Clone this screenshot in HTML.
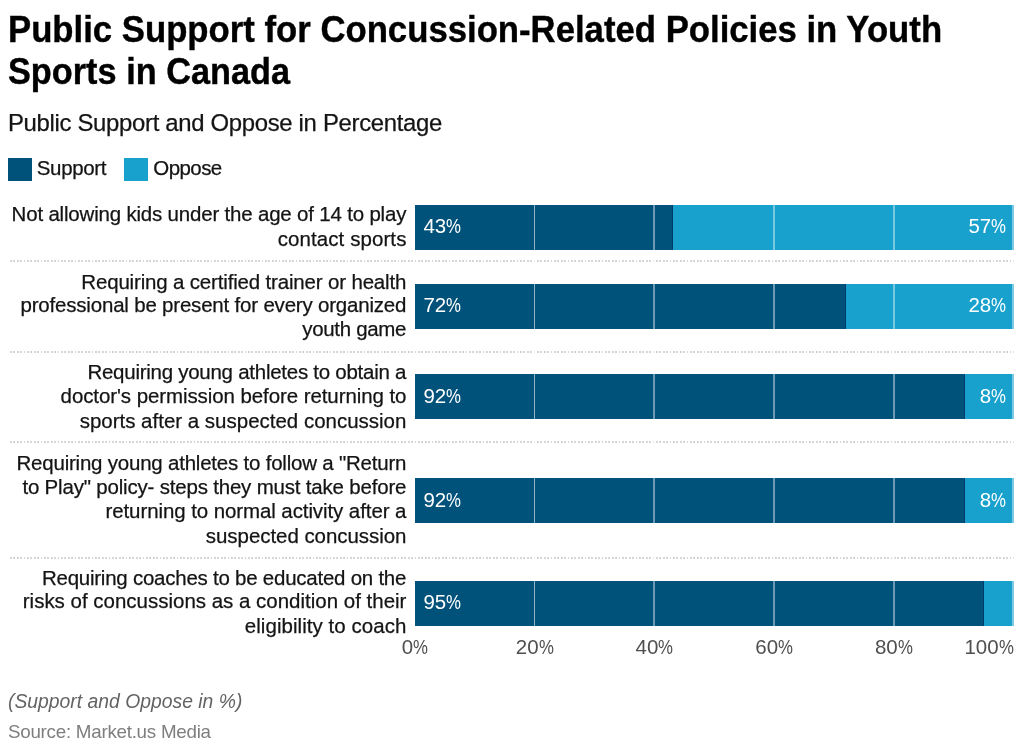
<!DOCTYPE html>
<html lang="en">
<head>
<meta charset="utf-8">
<title>Public Support for Concussion-Related Policies in Youth Sports in Canada</title>
<style>
*{box-sizing:border-box}
html,body{margin:0;padding:0;background:#fff}
body{width:1024px;height:750px;position:relative;overflow:hidden;font-family:"Liberation Sans",sans-serif;color:#1d1d1d;-webkit-font-smoothing:antialiased}
.chart{position:absolute;left:0;top:0;width:1024px;height:750px}
h1{position:absolute;left:8px;top:8px;margin:0;font-size:37.55px;line-height:42px;font-weight:700;color:#000;-webkit-text-stroke:0.4px #000;white-space:nowrap}
h1 span{display:block;transform-origin:0 0;width:max-content}
.desc{position:absolute;left:8px;top:107.7px;margin:0;font-size:23.9px;line-height:30px;color:#141414;-webkit-text-stroke:0.25px #141414;white-space:nowrap}
.legend{position:absolute;left:0;top:0;margin:0;padding:0;list-style:none}
.legend li{position:absolute;top:158px;height:23px;white-space:nowrap;font-size:20.48px;line-height:24px}
.legend i{position:absolute;left:0;top:0;width:24px;height:23px;display:block}
.legend b{position:absolute;top:-1.9px;font-weight:400;color:#141414;-webkit-text-stroke:0.25px #141414}
.row{position:absolute;left:0;top:0;width:1024px}
.label{position:absolute;right:617.6px;top:0;text-align:right;font-size:20.48px;line-height:24px;white-space:nowrap;color:#141414;-webkit-text-stroke:0.25px #141414}
.label span{display:block;position:absolute;right:0}
.bar{position:absolute;left:414.9px;width:598.8px;height:44.9px;display:flex;font-size:20.48px;line-height:44.9px;color:#fff}
.seg{height:100%;position:relative;white-space:nowrap}
.s1{background:#00527a;box-shadow:inset -1px 0 0 rgba(0,40,95,.55)}
.s2{background:#18a1cd;flex:1}
.s1 em,.s2 em{font-style:normal;position:absolute;top:-0.6px}
.pc{display:inline-block;transform:scaleX(.82);transform-origin:0 50%;margin-right:-3.3px}
.s1 em{left:8.6px}
.s2 em{right:7.6px}
.sep{position:absolute;left:10px;width:1003.5px;height:2px;background:repeating-linear-gradient(90deg,#d6d6d6 0,#d6d6d6 1.7px,transparent 1.7px,transparent 3.4px)}
.grid{position:absolute;top:205px;height:421px;width:1.2px;background:rgba(255,255,255,.55);mix-blend-mode:normal}
.tick{position:absolute;top:634.9px;font-size:20.48px;line-height:24px;color:#4f4f4f;width:80px;margin-left:-40px;text-align:center;white-space:nowrap}
.tick.last{text-align:right;margin-left:-80px}
.notes{position:absolute;left:8px;top:688.7px;margin:0;font-size:20.48px;line-height:24px;font-style:italic;color:#636363;white-space:nowrap}
.notes span{display:inline-block;transform-origin:0 0}
.source{position:absolute;left:8px;top:721.2px;margin:0;font-size:18.77px;line-height:22px;color:#7e7e7e;white-space:nowrap}
</style>
</head>
<body>
<div class="chart">
<h1><span id="title1" style="transform:scaleX(0.9245)">Public Support for Concussion-Related Policies in Youth</span> <span id="title2" style="transform:scaleX(0.9133)">Sports in Canada</span></h1>
<p class="desc"><span id="sub" style="letter-spacing:-0.316px;margin-right:0.316px">Public Support and Oppose in Percentage</span></p>
<ul class="legend">
<li style="left:8px"><i style="background:#00527a"></i><b id="leg1" style="left:28.8px;letter-spacing:-0.333px;margin-right:0.333px">Support</b></li>
<li style="left:124px"><i style="background:#18a1cd"></i><b id="leg2" style="left:29.3px;letter-spacing:-0.560px;margin-right:0.560px">Oppose</b></li>
</ul>
<div class="plot">
<div class="row">
<div class="label"><span id="R1L1" style="top:202px;letter-spacing:-0.182px;margin-right:0.182px">Not allowing kids under the age of 14 to play</span> <span id="R1L2" style="top:227px;letter-spacing:0.092px;margin-right:-0.092px">contact sports</span> </div>
<div class="bar" style="top:205.0px"><div class="seg s1" style="width:258.1px"><em>43<span class="pc">%</span></em></div><div class="seg s2"><em>57<span class="pc">%</span></em></div></div>
</div>
<div class="row">
<div class="label"><span id="R2L1" style="top:270px;letter-spacing:-0.158px;margin-right:0.158px">Requiring a certified trainer or health</span> <span id="R2L2" style="top:293px;letter-spacing:-0.186px;margin-right:0.186px">professional be present for every organized</span> <span id="R2L3" style="top:317px;letter-spacing:-0.311px;margin-right:0.311px">youth game</span> </div>
<div class="bar" style="top:283.8px"><div class="seg s1" style="width:431.1px"><em>72<span class="pc">%</span></em></div><div class="seg s2"><em>28<span class="pc">%</span></em></div></div>
</div>
<div class="row">
<div class="label"><span id="R3L1" style="top:360px;letter-spacing:-0.251px;margin-right:0.251px">Requiring young athletes to obtain a</span> <span id="R3L2" style="top:384px;letter-spacing:-0.074px;margin-right:0.074px">doctor's permission before returning to</span> <span id="R3L3" style="top:409px;letter-spacing:0.006px;margin-right:-0.006px">sports after a suspected concussion</span> </div>
<div class="bar" style="top:374.2px"><div class="seg s1" style="width:550.1px"><em>92<span class="pc">%</span></em></div><div class="seg s2"><em>8<span class="pc">%</span></em></div></div>
</div>
<div class="row">
<div class="label"><span id="R4L1" style="top:451px;letter-spacing:-0.205px;margin-right:0.205px">Requiring young athletes to follow a &quot;Return</span> <span id="R4L2" style="top:475px;letter-spacing:-0.181px;margin-right:0.181px">to Play&quot; policy- steps they must take before</span> <span id="R4L3" style="top:499px;letter-spacing:-0.080px;margin-right:0.080px">returning to normal activity after a</span> <span id="R4L4" style="top:524px;letter-spacing:-0.042px;margin-right:0.042px">suspected concussion</span> </div>
<div class="bar" style="top:478.2px"><div class="seg s1" style="width:550.1px"><em>92<span class="pc">%</span></em></div><div class="seg s2"><em>8<span class="pc">%</span></em></div></div>
</div>
<div class="row">
<div class="label"><span id="R5L1" style="top:566px;letter-spacing:-0.232px;margin-right:0.232px">Requiring coaches to be educated on the</span> <span id="R5L2" style="top:589px;letter-spacing:0.005px;margin-right:-0.005px">risks of concussions as a condition of their</span> <span id="R5L3" style="top:614px;letter-spacing:0.063px;margin-right:-0.063px">eligibility to coach</span> </div>
<div class="bar" style="top:580.8px"><div class="seg s1" style="width:568.8px"><em>95<span class="pc">%</span></em></div><div class="seg s2"></div></div>
</div>
<div class="sep" style="top:260.0px"></div>
<div class="sep" style="top:350.5px"></div>
<div class="sep" style="top:441.0px"></div>
<div class="sep" style="top:556.6px"></div>
<div class="grid" style="left:534px;width:1.1px;background:rgba(255,255,255,0.56)"></div>
<div class="grid" style="left:653px;width:2px;background:rgba(255,255,255,0.42)"></div>
<div class="grid" style="left:773px;width:2px;background:rgba(255,255,255,0.42)"></div>
<div class="grid" style="left:893px;width:2px;background:rgba(255,255,255,0.42)"></div>
<div class="grid" style="left:1012px;width:1.7px;background:rgba(255,255,255,0.45)"></div>
<div class="tick" style="left:415.00px">0<span class="pc">%</span></div>
<div class="tick" style="left:534.70px">20<span class="pc">%</span></div>
<div class="tick" style="left:654.40px">40<span class="pc">%</span></div>
<div class="tick" style="left:774.10px">60<span class="pc">%</span></div>
<div class="tick" style="left:893.80px">80<span class="pc">%</span></div>
<div class="tick last" style="left:1013.50px">100<span class="pc">%</span></div>
</div>
<p class="notes"><span id="note" style="transform:scaleX(0.9447)">(Support and Oppose in %)</span></p>
<p class="source"><span id="src" style="letter-spacing:-0.255px;margin-right:0.255px">Source: Market.us Media</span></p>
</div>
</body>
</html>
